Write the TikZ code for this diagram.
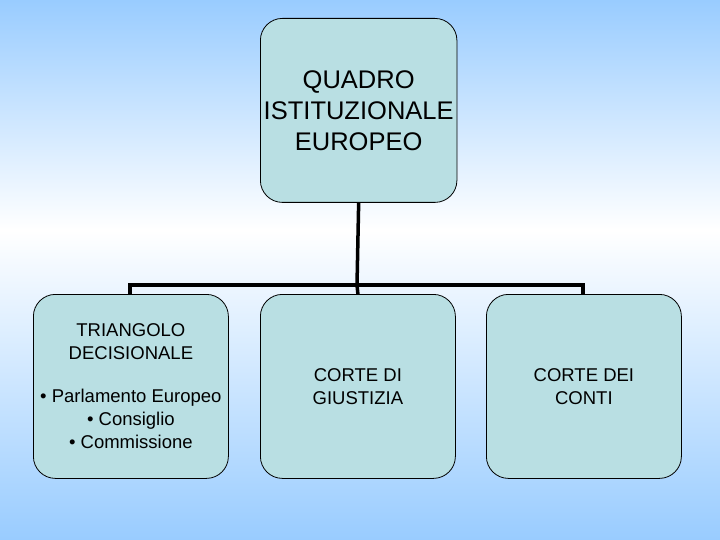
\documentclass[tikz,border=0pt]{standalone}
\usepackage{fontspec}
\setmainfont{Liberation Sans}
\begin{document}
\begin{tikzpicture}[x=1pt,y=-1pt,
  box/.style={draw=black,line width=0.8pt,fill=boxfill,rounded corners=22pt,minimum width=195pt,minimum height=184pt,anchor=north west,align=center,font=\fontsize{18.5}{23}\selectfont},
  conn/.style={line width=3.5pt,black}]
\definecolor{sky}{HTML}{99CCFF}
\definecolor{boxfill}{HTML}{B9DFE3}
\shade[top color=sky,bottom color=white] (0,0) rectangle (720,230);
\shade[top color=white,bottom color=sky] (0,230) rectangle (720,540);
\useasboundingbox (0,0) rectangle (720,540);
\node[box,font=\fontsize{25.5}{31}\selectfont] (top) at (260,18) {QUADRO\\ISTITUZIONALE\\EUROPEO};
\node[box] (a) at (33,294) {TRIANGOLO\\DECISIONALE\\[20pt]\textbullet\ Parlamento Europeo\\\textbullet\ Consiglio\\\textbullet\ Commissione};
\node[box] (b) at (260,294) {CORTE DI\\GIUSTIZIA};
\node[box] (c) at (486,294) {CORTE DEI\\CONTI};
\coordinate (j) at (357,285);
\draw[conn] (top.south) -- (j);
\draw[conn] (130,294) -- (130,285) -- (583,285) -- (583,294);
\draw[conn] (j) -- (b.north);
\end{tikzpicture}
\end{document}
